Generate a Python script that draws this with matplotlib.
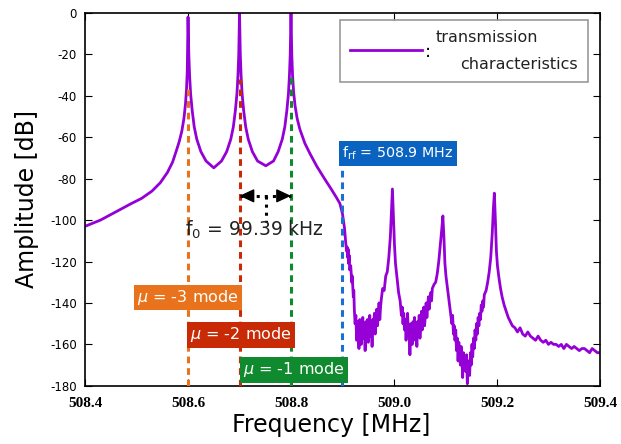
import matplotlib.pyplot as plt
from matplotlib.patches import Rectangle
from matplotlib.lines import Line2D

plt.rcParams['axes.unicode_minus'] = False

# smooth part of the measured response (508.4 - 508.906 MHz)
freq_smooth = [508.400, 508.430, 508.460, 508.490, 508.510, 508.530, 508.546, 508.560,
               508.570, 508.578, 508.583, 508.588, 508.592, 508.595, 508.597, 508.5985,
               508.6000,
               508.6015, 508.603, 508.605, 508.608, 508.612, 508.617, 508.625, 508.635,
               508.650,
               508.665, 508.675, 508.683, 508.688, 508.692, 508.695, 508.697, 508.6985,
               508.7000,
               508.7015, 508.703, 508.705, 508.708, 508.712, 508.717, 508.725, 508.735,
               508.751,
               508.766, 508.775, 508.783, 508.788, 508.792, 508.795, 508.797, 508.7985,
               508.8000,
               508.8015, 508.803, 508.805, 508.808, 508.812, 508.817, 508.827, 508.837,
               508.850, 508.865, 508.878, 508.888, 508.895, 508.900, 508.904, 508.906]
amp_smooth = [-103, -100, -96, -92, -89.5, -86, -82, -77,
              -72, -66, -62, -57, -51, -44, -37, -28,
              -2,
              -20, -30, -39, -47, -55, -61, -67, -71.5,
              -74.8,
              -71.5, -67, -61, -55, -47, -39, -30, -20,
              0,
              -20, -30, -39, -47, -55, -61, -67, -71.5,
              -73.8,
              -71.5, -67, -61, -55, -47, -39, -30, -20,
              0,
              -20, -30, -38, -45, -51, -56, -63, -68,
              -74, -80, -85, -89, -92, -97, -104, -110]

# noisy part above f_rf
freq_drop = [508.908, 508.909, 508.910, 508.911, 508.912, 508.913, 508.914, 508.916,
             508.918, 508.919, 508.921, 508.922, 508.923]
amp_drop = [-115, -113, -118, -114, -121, -117, -124, -122,
            -130, -127, -137, -134, -143]

# dense noise bands, sampled every 1.5 kHz from their start frequency
band1_start = 508.9245
band1_amp = [-150, -146, -158, -149, -155, -162, -148, -153, -160, -150, -147, -157,
             -152, -163, -149, -155, -148, -159, -151, -146, -156, -150, -161, -148,
             -152, -145, -155, -149, -143, -151, -146, -140, -148, -142, -138]
band2_start = 509.0145
band2_amp = [-146, -142, -150, -145, -153, -148, -158, -150, -145, -156, -151, -165,
             -150, -154, -160, -149, -155, -147, -158, -152, -161, -149, -154, -146,
             -157, -150, -144, -153, -148, -142, -151, -146, -140, -147, -141, -137,
             -143, -138, -135, -139, -133]
band3_start = 509.1125
band3_amp = [-150, -146, -155, -151, -158, -153, -163, -157, -168, -159, -164, -170,
             -161, -167, -176, -164, -171, -166, -173, -165, -179, -168, -172, -175,
             -164, -170, -160, -166, -157, -162, -153, -158, -150, -155, -147, -151,
             -145, -148, -141, -144, -139, -142, -136]
band_step = 0.0015

# peaks between the bands
freq_peak1 = [508.978, 508.981, 508.984, 508.987, 508.990, 508.993, 508.995, 508.997,
              508.999, 509.001, 509.003, 509.006, 509.009, 509.012]
amp_peak1 = [-133, -134, -127, -125, -118, -108, -96, -85,
             -98, -112, -121, -128, -135, -139]
freq_peak2 = [509.078, 509.081, 509.084, 509.087, 509.090, 509.093, 509.095, 509.097,
              509.099, 509.101, 509.104, 509.107, 509.110]
amp_peak2 = [-131, -130, -126, -120, -112, -104, -98, -108,
             -121, -127, -133, -139, -145]
freq_peak3 = [509.179, 509.182, 509.185, 509.188, 509.191, 509.193, 509.195, 509.197,
              509.199, 509.201, 509.204, 509.207, 509.210, 509.214, 509.218, 509.222,
              509.226, 509.230, 509.235, 509.240, 509.245, 509.250, 509.255, 509.260,
              509.265, 509.270, 509.275, 509.280, 509.285, 509.290, 509.295, 509.300,
              509.305, 509.310, 509.315, 509.320, 509.325, 509.330, 509.335, 509.340,
              509.345, 509.350, 509.355, 509.360, 509.365, 509.370, 509.375, 509.380,
              509.385, 509.390, 509.395, 509.400]
amp_peak3 = [-134, -130, -125, -118, -106, -95, -87, -100,
             -115, -122, -128, -133, -137, -141, -144, -147,
             -149, -151, -152, -154, -152, -155, -156, -154,
             -156, -157, -158, -156, -158, -159, -158, -160,
             -159, -160, -160, -161, -160, -162, -160, -161,
             -162, -161, -162, -163, -162, -162, -163, -164,
             -162, -163, -164, -164]

mode_freqs = [508.6, 508.7, 508.8]
mode_tops = [-36, -32, -31]
mode_names = ['$\\mu$ = -3 mode', '$\\mu$ = -2 mode', '$\\mu$ = -1 mode']
mode_colors = ['#e8731c', '#c92a06', '#0f8a2e']
f_rf = 508.9
f_rf_top = -72


def band(start, values):
    return [round(start + i * band_step, 4) for i in range(len(values))]


freq = (freq_smooth + freq_drop + band(band1_start, band1_amp) + freq_peak1
        + band(band2_start, band2_amp) + freq_peak2 + band(band3_start, band3_amp)
        + freq_peak3)
amp = (amp_smooth + amp_drop + band1_amp + amp_peak1 + band2_amp + amp_peak2
       + band3_amp + amp_peak3)

fig = plt.figure(figsize=(6.21, 4.44), dpi=100)
ax = fig.add_axes([0.137, 0.131, 0.829, 0.840])

# dashed mode lines
for f, top, c in zip(mode_freqs, mode_tops, mode_colors):
    ax.vlines(f, -180, top, colors=c, linestyles=(0, (2.2, 1.6)), lw=2.2, zorder=3)
ax.vlines(f_rf, -180, f_rf_top, colors='#1a6fd0', linestyles=(0, (2.2, 1.6)), lw=2.2, zorder=3)

ax.plot(freq, amp, color='#9400d6', lw=2.0, zorder=2)

# mode labels
label_pos = [(508.6, -137.5), (508.703, -155.4), (508.806, -172.3)]
for (x, y), name, c in zip(label_pos, mode_names, mode_colors):
    ax.text(x, y, name, color='white', fontsize=11.5, ha='center', va='center', zorder=5,
            bbox=dict(boxstyle='square,pad=0.2', fc=c, ec='none'))

ax.text(508.8995, -68, 'f$_{\\mathrm{rf}}$ = 508.9 MHz', color='white', fontsize=10.3,
        ha='left', va='center', zorder=5,
        bbox=dict(boxstyle='square,pad=0.25', fc='#0a63c0', ec='none'))

# f0 spacing marker
ax.plot([508.7, 508.8], [-88.3, -88.3], ls=':', lw=2.2, color='k', zorder=4)
head = dict(arrowstyle='-|>,head_length=0.6,head_width=0.28', lw=1, color='k',
            mutation_scale=15, shrinkA=0, shrinkB=0)
ax.annotate('', xy=(508.7, -88.3), xytext=(508.722, -88.3), arrowprops=head, zorder=4)
ax.annotate('', xy=(508.8, -88.3), xytext=(508.778, -88.3), arrowprops=head, zorder=4)
ax.plot([508.751, 508.751], [-88.3, -101], ls=':', lw=2.2, color='k', zorder=4)
ax.text(508.729, -104.5, 'f$_0$ = 99.39 kHz', fontsize=13.5, color='#222222',
        ha='center', va='center', zorder=4)

# legend drawn by hand
ax.add_patch(Rectangle((0.495, 0.815), 0.482, 0.166, transform=ax.transAxes,
                       fill=False, ec='#999999', lw=1.2, zorder=6))
ax.add_line(Line2D([0.515, 0.654], [0.901, 0.901], transform=ax.transAxes,
                   color='#9400d6', lw=2.0, zorder=6))
ax.text(0.666, 0.895, ':', transform=ax.transAxes, fontsize=13, ha='center', va='center')
ax.text(0.680, 0.935, 'transmission', transform=ax.transAxes, fontsize=11.5,
        ha='left', va='center', color='#222222')
ax.text(0.957, 0.862, 'characteristics', transform=ax.transAxes, fontsize=11.5,
        ha='right', va='center', color='#222222')

ax.set_xlim(508.4, 509.4)
ax.set_ylim(-180, 0)
ax.set_xticks([508.4, 508.6, 508.8, 509.0, 509.2, 509.4])
ax.set_xticklabels(['508.4', '508.6', '508.8', '509.0', '509.2', '509.4'],
                   fontfamily='Liberation Serif', fontweight='bold', fontsize=11)
ax.set_yticks(range(-180, 1, 20))
ax.tick_params(axis='y', labelsize=8.5, direction='in', right=True, length=5, pad=6)
ax.tick_params(axis='x', direction='in', top=True, length=5, pad=8)
for s in ax.spines.values():
    s.set_linewidth(1.2)

ax.set_xlabel('Frequency [MHz]', fontsize=17, labelpad=2)
ax.xaxis.label.set_x(0.478)
ax.set_ylabel('Amplitude [dB]', fontsize=17, labelpad=8)

fig.savefig('out.png', dpi=100)
